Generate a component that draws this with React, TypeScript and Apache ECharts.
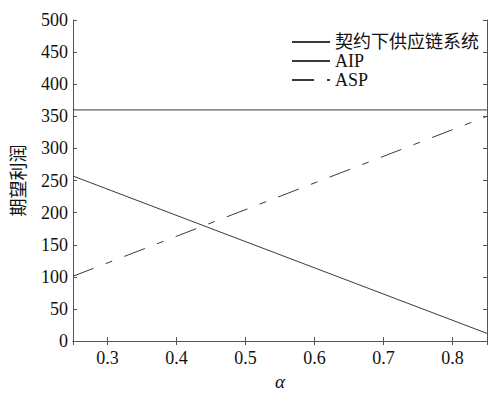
import React, { useEffect, useRef } from "react";
import * as echarts from "echarts";

const alphaValues = [0.25, 0.85];
const contractProfit = [360, 360];
const aipProfit = [257, 12];
const aspProfit = [101, 350];
const seriesNames = ["契约下供应链系统", "AIP", "ASP"];

const serif = "'Liberation Serif', 'Times New Roman', 'Noto Sans CJK SC', serif";
const axisColor = "#555";
const lineColor = "#3a3a3a";

export default function App() {
  const ref = useRef<HTMLDivElement>(null);
  useEffect(() => {
    if (!ref.current) return;
    const chart = echarts.init(ref.current, undefined, { renderer: "svg" });
    const toPairs = (ys: number[]) => alphaValues.map((x, i) => [x, ys[i]]);
    const baseX = {
      type: "value" as const,
      min: 0.25,
      max: 0.85,
      splitNumber: 6,
      splitLine: { show: false },
      axisLine: { show: true, lineStyle: { color: axisColor, width: 1 } },
      axisTick: { show: true, inside: true, length: 4, lineStyle: { color: axisColor } },
    };
    const baseY = {
      type: "value" as const,
      min: 0,
      max: 500,
      interval: 50,
      splitLine: { show: false },
      axisLine: { show: true, lineStyle: { color: axisColor, width: 1 } },
      axisTick: { show: true, inside: true, length: 4, lineStyle: { color: axisColor } },
    };
    chart.setOption({
      animation: false,
      grid: { left: 73, right: 1, top: 20, bottom: 47, containLabel: false },
      legend: {
        orient: "vertical",
        left: 286,
        top: 28,
        itemWidth: 38,
        itemHeight: 14,
        itemGap: 1,
        data: seriesNames,
        itemStyle: { opacity: 0, borderWidth: 0 },
        textStyle: { fontFamily: serif, fontSize: 18, color: "#111", lineHeight: 18 },
      },
      xAxis: [
        {
          ...baseX,
          position: "bottom",
          name: "α",
          nameLocation: "middle",
          nameGap: 26,
          nameTextStyle: { fontFamily: serif, fontSize: 19, fontStyle: "italic", color: "#111" },
          axisLabel: {
            show: true,
            showMinLabel: false,
            showMaxLabel: false,
            margin: 8,
            fontFamily: serif,
            fontSize: 18,
            color: "#111",
          },
        },
        { ...baseX, position: "top", axisLabel: { show: false } },
      ],
      yAxis: [
        {
          ...baseY,
          position: "left",
          name: "期望利润",
          nameLocation: "middle",
          nameGap: 45,
          nameRotate: 90,
          nameTextStyle: { fontFamily: serif, fontSize: 18, color: "#111" },
          axisLabel: { show: true, margin: 5, fontFamily: serif, fontSize: 18, color: "#111" },
        },
        { ...baseY, position: "right", axisLabel: { show: false } },
      ],
      series: [
        {
          name: seriesNames[0],
          type: "line",
          data: toPairs(contractProfit),
          symbol: "none",
          lineStyle: { color: lineColor, width: 1 },
          itemStyle: { color: lineColor },
        },
        {
          name: seriesNames[1],
          type: "line",
          data: toPairs(aipProfit),
          symbol: "none",
          lineStyle: { color: lineColor, width: 1 },
          itemStyle: { color: lineColor },
        },
        {
          name: seriesNames[2],
          type: "line",
          data: toPairs(aspProfit),
          symbol: "none",
          lineStyle: { color: lineColor, width: 1, type: [22, 13, 7, 13] },
          itemStyle: { color: lineColor },
        },
      ],
    });
    return () => chart.dispose();
  }, []);
  return (
    <div
      ref={ref}
      style={{ position: "absolute", left: 0, top: 0, width: 488, height: 396 }}
    />
  );
}
